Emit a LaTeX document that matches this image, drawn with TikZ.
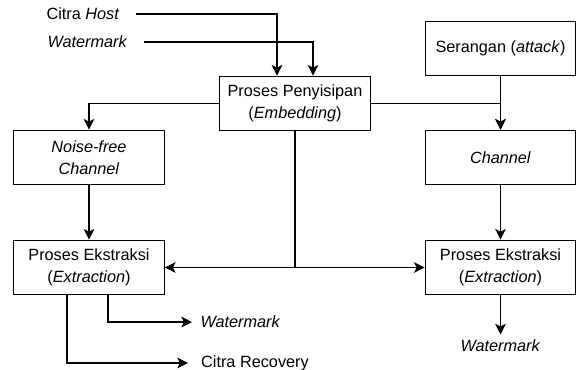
\documentclass[tikz,border=0pt]{standalone}
\usepackage{fontspec}
\setmainfont{Liberation Sans}
\usetikzlibrary{arrows.meta,positioning,calc}

\begin{document}
\begin{tikzpicture}[x=0.75pt, y=-0.75pt, line width=0.8pt, >={Stealth[length=8pt,width=8pt,inset=2pt]}]
  \tikzstyle{process}=[rectangle, draw=black, fill=white, line width=0.8pt, minimum width=113pt, minimum height=41pt, align=center, font=\fontsize{12.2}{16.5}\selectfont]
  \tikzstyle{signal}=[inner xsep=12pt, inner ysep=0pt, font=\fontsize{12.2}{16.5}\selectfont]
  \tikzstyle{output}=[inner xsep=6pt, inner ysep=3.75pt, font=\fontsize{12.2}{16.5}\selectfont]
  \useasboundingbox (0,0) rectangle (577,369);

  % Masukan
  \node[signal] (host) at (83,14) {Citra \textit{Host}};
  \node[signal] (wmin) at (87.5,42) {\textit{Watermark}};

  % Proses utama
  \node[process] (penyisipan) at (295,103.5) {Proses Penyisipan\\(\textit{Embedding})};
  \node[process] (serangan) at (500.5,48.5) {Serangan (\textit{attack})};
  \node[process] (noisefree) at (89,157.5) {\textit{Noise-free}\\\textit{Channel}};
  \node[process] (channel) at (500.5,157.5) {\textit{Channel}};
  \node[process] (ekstraksiL) at (89,267.5) {Proses Ekstraksi\\(\textit{Extraction})};
  \node[process] (ekstraksiR) at (500.5,267.5) {Proses Ekstraksi\\(\textit{Extraction})};

  % Keluaran
  \node[output, anchor=west] (wmL) at (192,322) {\textit{Watermark}};
  \node[output, anchor=west, inner xsep=9.5pt] (recovery) at (188,363) {Citra Recovery};
  \node[output] (wmR) at (500.5,346) {\textit{Watermark}};
  \coordinate (split) at (penyisipan.south |- ekstraksiL.east);

  % Koneksi
  \draw[->] (host.east) -| ([xshift=-13.5pt]penyisipan.north);
  \draw[->] (wmin.east) -| ([xshift=13.5pt]penyisipan.north);
  \draw[->] (penyisipan.west) -| (noisefree.north);
  \draw[->] (penyisipan.east) -| (channel.north);
  \draw[->] (serangan.south) -- (channel.north);
  \draw[->] (noisefree.south) -- (ekstraksiL.north);
  \draw[->] (channel.south) -- (ekstraksiR.north);
  \draw (penyisipan.south) -- (split);
  \draw[->] (split) -- (ekstraksiL.east);
  \draw[->] (split) -- (ekstraksiR.west);
  \draw[->] ([xshift=14.25pt]ekstraksiL.south) |- (wmL.west);
  \draw[->] ([xshift=-16.5pt]ekstraksiL.south) |- (recovery.west);
  \draw[->] (ekstraksiR.south) -- (wmR.north);
\end{tikzpicture}
\end{document}
